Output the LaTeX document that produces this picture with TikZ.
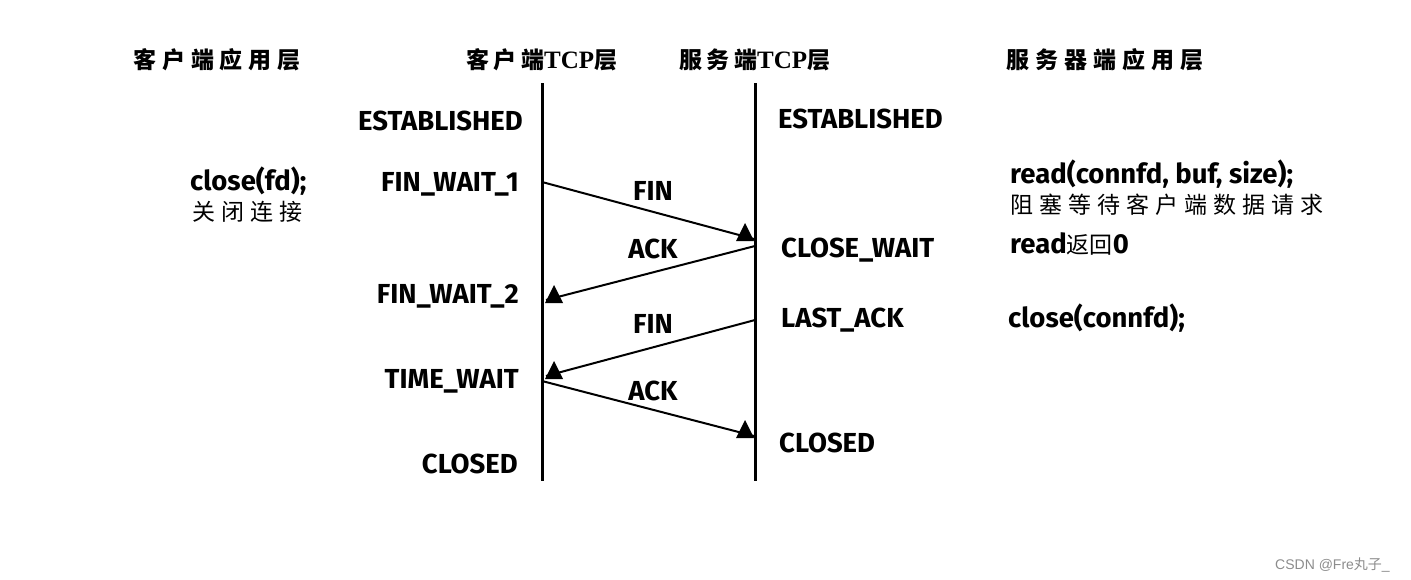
\documentclass[tikz,border=0pt]{standalone}
\usepackage{fontspec}
\setmainfont{Fira Sans}
\newfontfamily\cjk{Noto Sans CJK SC}[LetterSpace=26]
\newfontfamily\cjkh{Noto Sans CJK SC}[LetterSpace=18]
\newfontfamily\cjkn{Noto Sans CJK SC}
\newfontfamily\tcp{Liberation Serif}
\newfontfamily\wm{Liberation Sans}
\begin{document}
\begin{tikzpicture}[x=1pt,y=-1pt,
  lab/.style={inner sep=0pt,anchor=base west,font=\fontsize{27.5}{30}\selectfont\bfseries},
  rlab/.style={lab,anchor=base east},
  mlab/.style={inner sep=0pt,anchor=base,font=\fontsize{27.5}{30}\selectfont\bfseries},
  hdr/.style={inner sep=0pt,anchor=base,font=\fontsize{23}{26}\selectfont\bfseries},
  cjklab/.style={inner sep=0pt,anchor=base west,font=\fontsize{23}{26}\selectfont\cjk},
  life/.style={line width=3pt},
  msg/.style={line width=2pt},
  tri/.style={fill=black}]
\useasboundingbox (0,0) rectangle (1411,579);
% headers
\node[hdr] (h1) at (217,68) {\cjk 客户端应用层};
\node[hdr] (h2) at (542,68) {\cjkh 客户端{\tcp\fontsize{25}{26}\selectfont TCP}层};
\node[hdr] (h3) at (755,68) {\cjkh 服务端{\tcp\fontsize{25}{26}\selectfont TCP}层};
\node[hdr] (h4) at (1105,68) {\cjk 服务器端应用层};
% lifelines
\coordinate (cT) at (542,83); \coordinate (cB) at (542,481);
\coordinate (sT) at (755,83); \coordinate (sB) at (755,481);
\draw[life] (cT) -- (cB);
\draw[life] (sT) -- (sB);
% states
\node[rlab] (e1) at (523,130) {ESTABLISHED};
\node[lab] (e2) at (778,128) {ESTABLISHED};
\node[rlab] (fw1) at (519,191) {FIN\_WAIT\_1};
\node[lab] (cw) at (781,257) {CLOSE\_WAIT};
\node[rlab] (fw2) at (519,303) {FIN\_WAIT\_2};
\node[lab] (la) at (781,327) {LAST\_ACK};
\node[rlab] (tw) at (519,388) {TIME\_WAIT};
\node[lab] (cs) at (779,452) {CLOSED};
\node[rlab] (cc) at (518,473) {CLOSED};
% app texts
\node[lab] (cl) at (190,190) {close(fd);};
\node[cjklab] (gb) at (192,220) {关闭连接};
\node[lab] (rd) at (1010,183) {read(connfd, buf, size);};
\node[cjklab] (zs) at (1010,213) {阻塞等待客户端数据请求};
\node[lab] (r0) at (1010,253) {read{\cjkn\mdseries\fontsize{23}{26}\selectfont 返回}0};
\node[lab] (cf) at (1008,327) {close(connfd);};
% messages
\node[mlab] (m1) at (653,200) {FIN};
\node[mlab] (m2) at (653,258) {ACK};
\node[mlab] (m3) at (653,333) {FIN};
\node[mlab] (m4) at (653,400) {ACK};
\coordinate (a1s) at (542,182); \coordinate (a1e) at (754,239);
\coordinate (a2s) at (755,246); \coordinate (a2e) at (546,300);
\coordinate (a3s) at (755,320); \coordinate (a3e) at (546,376);
\coordinate (a4s) at (542,381); \coordinate (a4e) at (754,436);
\draw[msg] (a1s) -- (a1e);
\draw[msg] (a2s) -- (a2e);
\draw[msg] (a3s) -- (a3e);
\draw[msg] (a4s) -- (a4e);
\fill[tri] (a1e) ++(0,2) -- ++(-18,0) -- ++(9,-18) -- cycle;
\fill[tri] (a2e) ++(-1,3) -- ++(18,0) -- ++(-9,-18) -- cycle;
\fill[tri] (a3e) ++(-1,3) -- ++(18,0) -- ++(-9,-18) -- cycle;
\fill[tri] (a4e) ++(0,2) -- ++(-18,0) -- ++(9,-18) -- cycle;
% watermark
\node[inner sep=0pt,anchor=base west,text=black!45,font=\fontsize{14}{16}\selectfont\wm] (wmk) at (1275,569) {CSDN @Fre{\cjkn 丸子}\_};
\end{tikzpicture}
\end{document}
